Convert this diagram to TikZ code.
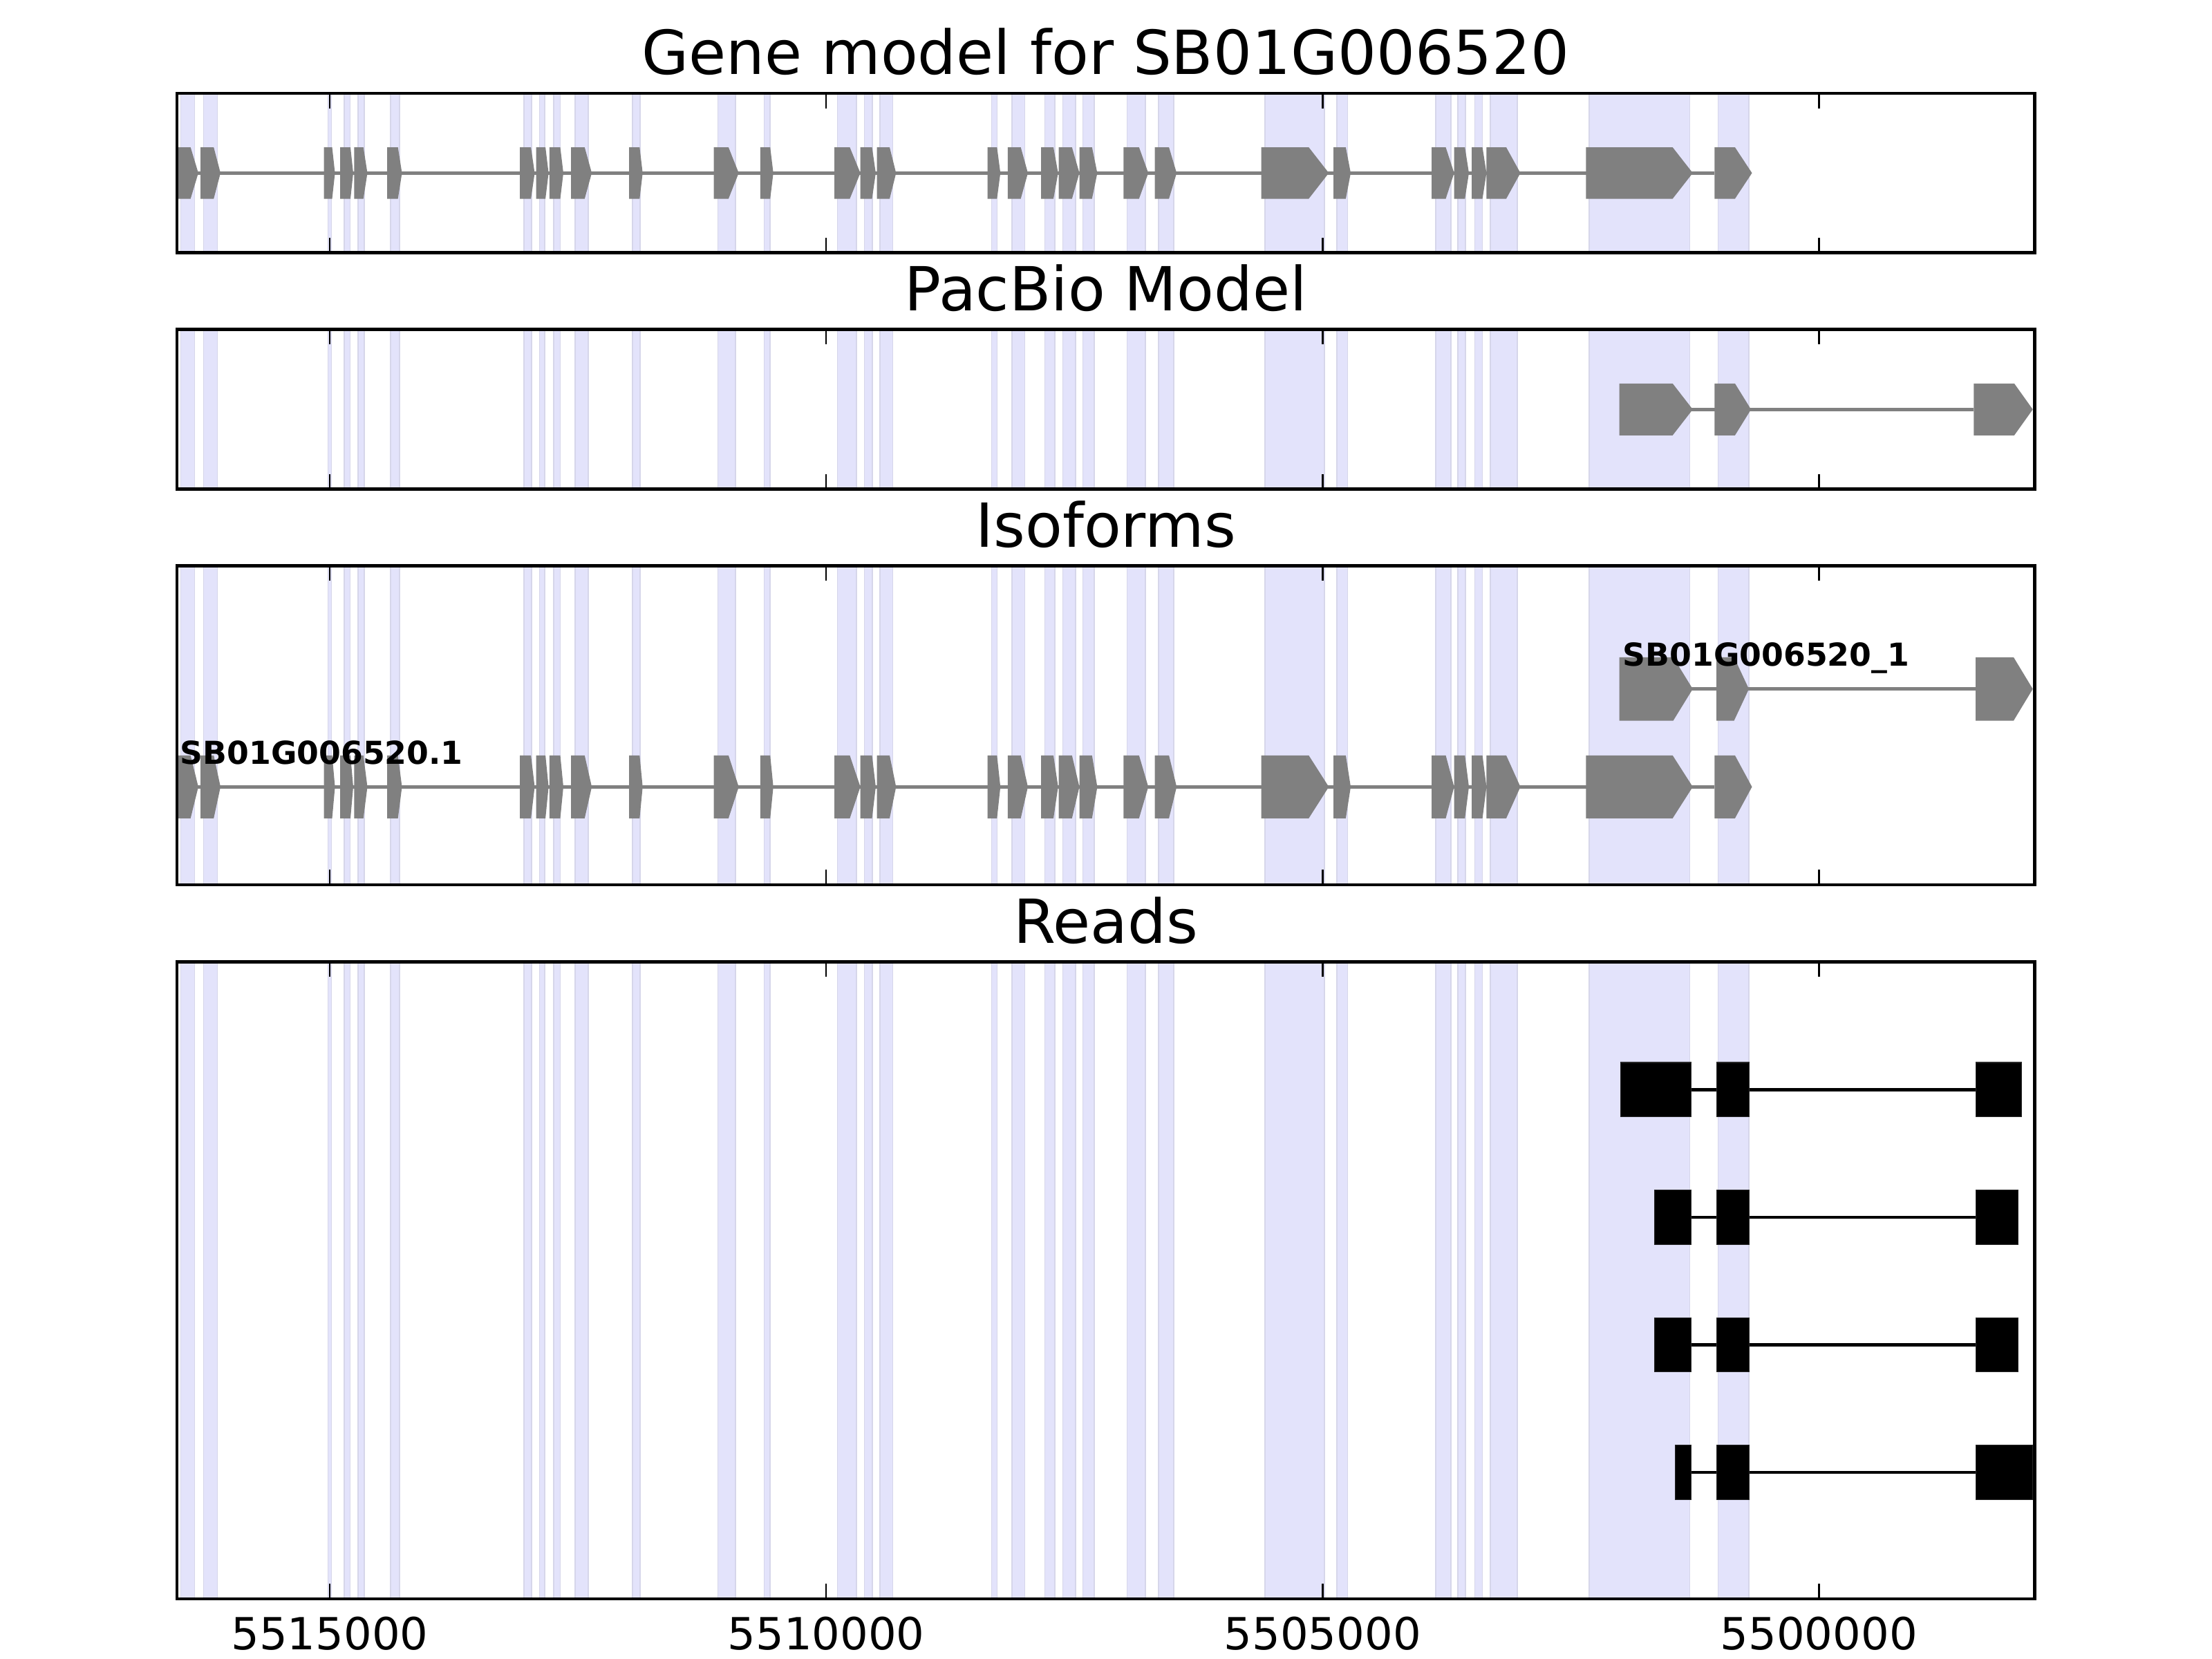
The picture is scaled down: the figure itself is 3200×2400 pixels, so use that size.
\documentclass[tikz,border=0pt]{standalone}
\usepackage{fontspec}
\setmainfont{DejaVu Sans}
\definecolor{band}{RGB}{227,227,251}
\definecolor{bandedge}{RGB}{214,214,234}
\definecolor{exongrey}{RGB}{128,128,128}
\definecolor{readedge}{RGB}{40,40,40}
\def\bandlist{261.4/281.5, 294.5/314.6, 474.4/479.7, 498.0/506.5, 518.1/527.1, 565.0/577.9, 757.8/769.0, 780.6/788.2, 800.7/810.5, 832.0/850.7, 915.0/926.1, 1038.3/1064.2, 1105.3/1114.2, 1211.5/1239.2, 1250.3/1262.0, 1272.7/1291.4, 1434.3/1442.3, 1463.7/1482.5, 1511.5/1525.8, 1537.4/1556.2, 1566.4/1582.9, 1630.4/1657.1, 1675.9/1698.2, 1829.9/1916.1, 1933.9/1949.5, 2076.8/2098.7, 2108.9/2120.1, 2133.5/2144.6, 2155.8/2195.1, 2298.8/2444.3, 2485.4/2530.0}
\def\genelist{245/275.7/286.9, 290.0/309.2/319.0, 468.6/480.5/484.6, 492.2/507.0/511.0, 512.3/525.7/531.5, 560.1/575.7/581.5, 752.0/768.1/773.5, 775.7/789.1/793.6, 794.9/810.5/815.0, 826.2/845.8/856.1, 910.1/925.3/929.7, 1032.5/1053.9/1068.7, 1099.9/1114.2/1118.7, 1207.1/1229.4/1244.6, 1244.6/1261.5/1266.9, 1268.7/1287.0/1296.3, 1428.5/1442.3/1447.2, 1457.9/1476.7/1487.0, 1506.2/1524.0/1530.7, 1531.6/1550.8/1561.5, 1561.5/1579.8/1587.4, 1625.4/1647.8/1661.2, 1670.5/1691.1/1702.2, 1824.6/1893.3/1922.3, 1929.0/1946.9/1954.0, 2071.0/2091.5/2103.6, 2103.6/2119.2/2125.0, 2129.0/2144.6/2150.4, 2150.4/2179.0/2199.5, 2294.3/2419.7/2448.8, 2480.4/2509.9/2534.5}
\def\pacbiolist{2342.5/2419.7/2448.8, 2480.4/2509.9/2533.1, 2855.4/2913.9/2940.7}
\def\isotwolist{2342.5/2420.6/2448.8, 2483.0/2508.6/2530.0, 2858.0/2913.0/2940.7}
\def\ticklist{477.1, 1195.2, 1913.3, 2631.3}
\newcommand\drawexonset[3]{%
  \foreach \l/\t/\p in #1 {\fill[exonshape] (\l,#2-#3) -- (\t,#2-#3) -- (\p,#2) -- (\t,#2+#3) -- (\l,#2+#3) -- cycle;}}
\newcommand\drawreadrow[3]{% yc, left of first box, right of last box
  \draw[readline] (#2,#1) -- (#3,#1);
  \filldraw[readbox] (#2,#1-39.2) rectangle (2446.5,#1+39.2);
  \filldraw[readbox] (2483.6,#1-39.2) rectangle (2530.4,#1+39.2);
  \filldraw[readbox] (2858.5,#1-39.2) rectangle (#3,#1+39.2);}
\begin{document}
\begin{tikzpicture}[x=0.01cm,y=-0.01cm,
  frame/.style={line width=1.3pt,draw=black},
  tickmark/.style={line width=0.7pt,draw=black},
  intron/.style={line width=1.4pt,draw=exongrey},
  exonshape/.style={fill=exongrey},
  readline/.style={line width=1.3pt,draw=black},
  readbox/.style={fill=black,draw=readedge,line width=0.3pt},
  bandfill/.style={fill=band,draw=bandedge,line width=0.45pt},
  titletext/.style={font=\fontsize{25}{30}\selectfont,inner sep=0pt,anchor=base},
  ticktext/.style={font=\fontsize{18.2}{22}\selectfont,inner sep=0pt,anchor=base},
  isotext/.style={font=\fontsize{13}{16}\selectfont\bfseries,inner sep=0pt,anchor=base west}]
\useasboundingbox[fill=white] (0,0) rectangle (3200,2400);
% bands in every panel
\foreach \ya/\yb in {135/365.7, 476.7/707.7, 818.7/1280, 1391.7/2313} {
  \begin{scope}
    \clip (256,\ya) rectangle (2943.5,\yb);
    \foreach \a/\b in \bandlist { \filldraw[bandfill] (\a,\ya-5) rectangle (\b,\yb+5); }
  \end{scope}
}
% panel 1: gene model
\begin{scope}
  \clip (256,135) rectangle (2943.5,365.7);
  \draw[intron] (256,250.3) -- (2480.4,250.3);
  \drawexonset{\genelist}{250.3}{37.2}
\end{scope}
% panel 2: PacBio model
\begin{scope}
  \clip (256,476.7) rectangle (2943.5,707.7);
  \draw[intron] (2342.5,592.3) -- (2855.4,592.3);
  \drawexonset{\pacbiolist}{592.3}{37.5}
\end{scope}
% panel 3: isoforms
\begin{scope}
  \clip (256,818.7) rectangle (2943.5,1280);
  \draw[intron] (2342.5,996.7) -- (2858.0,996.7);
  \drawexonset{\isotwolist}{996.7}{45.8}
  \draw[intron] (256,1138.3) -- (2480.4,1138.3);
  \drawexonset{\genelist}{1138.3}{45.5}
\end{scope}
\node[isotext] (isoone) at (260,1105) {SB01G006520.1};
\node[isotext] (isotwo) at (2347,963.3) {SB01G006520\_1};
% panel 4: reads
\begin{scope}
  \clip (256,1391.7) rectangle (2943.5,2313);
  \drawreadrow{1576.2}{2344.7}{2924.6}
  \drawreadrow{1761.0}{2393.4}{2919.7}
  \drawreadrow{1945.5}{2393.4}{2919.7}
  \drawreadrow{2130.0}{2423.3}{2940.7}
\end{scope}
% frames and ticks
\foreach \ya/\yb in {135/365.7, 476.7/707.7, 818.7/1280, 1391.7/2313} {
  \foreach \tx in \ticklist {
    \draw[tickmark] (\tx,\ya) -- (\tx,\ya+21.7);
    \draw[tickmark] (\tx,\yb) -- (\tx,\yb-21.7);
  }
  \draw[frame] (256,\ya) rectangle (2943.5,\yb);
}
% titles
\node[titletext] (titlegene) at (1599.75,107.3) {Gene model for SB01G006520};
\node[titletext] (titlepacbio) at (1599.75,449) {PacBio Model};
\node[titletext] (titleiso) at (1599.75,791) {Isoforms};
\node[titletext] (titlereads) at (1599.75,1364) {Reads};
% tick labels
\node[ticktext] (ticka) at (477.1,2386) {5515000};
\node[ticktext] (tickb) at (1195.2,2386) {5510000};
\node[ticktext] (tickc) at (1913.3,2386) {5505000};
\node[ticktext] (tickd) at (2631.3,2386) {5500000};
\end{tikzpicture}
\end{document}
